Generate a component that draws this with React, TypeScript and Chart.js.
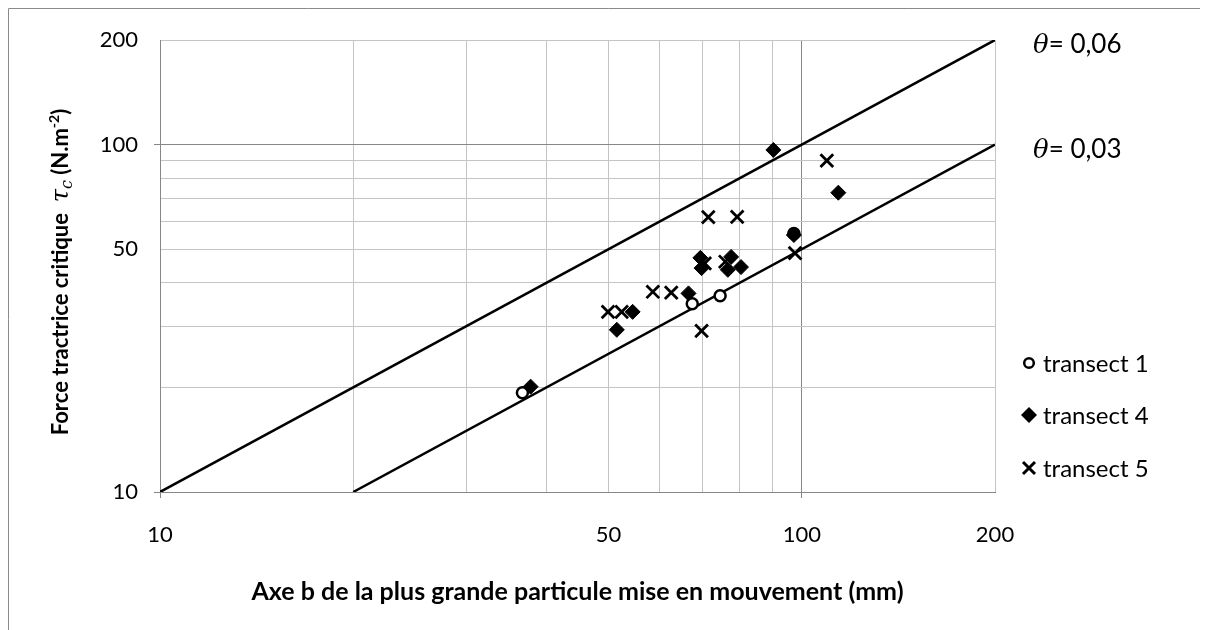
import React, { useEffect, useRef } from 'react';
import { Chart, registerables } from 'chart.js';

Chart.register(...registerables);

// ---- data ----
const t1D = [36.7, 67.5, 74.6, 97.2];
const t1Tau = [19.3, 34.8, 36.7, 55.5];

const t4D = [37.8, 51.5, 54.5, 66.6, 69.5, 69.8, 77.6, 76.7, 80.4, 97.2, 90.3, 114];
const t4Tau = [20.1, 29.3, 33.0, 37.3, 47.2, 44.1, 47.5, 43.6, 44.4, 54.9, 96.5, 72.7];

const t5D = [49.9, 52.4, 58.6, 62.6, 69.8, 70.6, 76.0, 97.6, 71.5, 79.3, 109.4];
const t5Tau = [33.0, 33.0, 37.7, 37.5, 29.1, 45.5, 46.0, 48.7, 61.8, 61.9, 89.9];

const theta06D = [10, 200];
const theta06Tau = [10, 200];
const theta03D = [20, 200];
const theta03Tau = [10, 100];

const gridTicks = [10, 20, 30, 40, 50, 60, 70, 80, 90, 100, 200];
const labelTicks = [10, 50, 100, 200];
const majorTicks = [10, 100];

const seriesLabels = ['transect 1', 'transect 4', 'transect 5'];
const thetaLabels = ['0,06', '0,03'];
const xTitle = 'Axe b de la plus grande particule mise en mouvement (mm)';

const FONT = 'Lato, "Open Sans", sans-serif';

const pts = (xs: number[], ys: number[]) => xs.map((x, i) => ({ x, y: ys[i] }));

type Seg = { text: string; font: string; dy?: number };

function segWidth(ctx: CanvasRenderingContext2D, segs: Seg[]) {
  let w = 0;
  for (const s of segs) {
    ctx.font = s.font;
    w += ctx.measureText(s.text).width;
  }
  return w;
}
function drawSegs(ctx: CanvasRenderingContext2D, segs: Seg[], x: number, y: number) {
  let cx = x;
  for (const s of segs) {
    ctx.font = s.font;
    ctx.fillText(s.text, cx, y + (s.dy || 0));
    cx += ctx.measureText(s.text).width;
  }
}

const overlay = {
  id: 'overlay',
  afterDraw(chart: any) {
    const ctx: CanvasRenderingContext2D = chart.ctx;
    const { left, right } = chart.chartArea;
    const ys = chart.scales.y;
    ctx.save();
    // outer frame (top and left edges visible)
    ctx.strokeStyle = '#8a8a8a';
    ctx.lineWidth = 1;
    ctx.beginPath();
    ctx.moveTo(0.5, chart.height);
    ctx.lineTo(0.5, 0.5);
    ctx.lineTo(chart.width, 0.5);
    ctx.stroke();

    ctx.fillStyle = '#000';
    ctx.textBaseline = 'alphabetic';
    ctx.textAlign = 'left';

    // x title
    const xs: Seg[] = [{ text: xTitle, font: `bold 25px ${FONT}` }];
    const xw = segWidth(ctx, xs);
    drawSegs(ctx, xs, (left + right) / 2 - xw / 2, 592);

    // y title (rotated)
    const bold = `bold 22px ${FONT}`;
    const ySegs: Seg[] = [
      { text: 'Force tractrice critique  ', font: bold },
      { text: 'τ', font: 'italic 24px "DejaVu Serif"' },
      { text: 'c', font: 'italic 16px "DejaVu Serif"', dy: 4 },
      { text: ' (N.m', font: bold },
      { text: '-2', font: `bold 14px ${FONT}`, dy: -9 },
      { text: ')', font: bold },
    ];
    const yw = segWidth(ctx, ySegs);
    ctx.save();
    ctx.translate(52, 264);
    ctx.rotate(-Math.PI / 2);
    drawSegs(ctx, ySegs, -yw / 2, 8);
    ctx.restore();

    // theta labels
    const thVals = [theta06Tau[1], theta03Tau[1]];
    thVals.forEach((v, i) => {
      const py = ys.getPixelForValue(v) + 13;
      drawSegs(ctx, [
        { text: 'θ', font: 'italic 26px "DejaVu Serif"' },
        { text: '= ' + thetaLabels[i], font: `26px ${FONT}` },
      ], right + 38, py);
    });

    // legend
    const rowY = [355, 407, 460];
    const mx = 1021;
    ctx.strokeStyle = '#000';
    ctx.fillStyle = '#000';
    // circle
    ctx.lineWidth = 2.5;
    ctx.beginPath();
    ctx.arc(mx, rowY[0], 4.8, 0, Math.PI * 2);
    ctx.stroke();
    // diamond
    ctx.beginPath();
    ctx.moveTo(mx - 8, rowY[1]);
    ctx.lineTo(mx, rowY[1] - 8);
    ctx.lineTo(mx + 8, rowY[1]);
    ctx.lineTo(mx, rowY[1] + 8);
    ctx.closePath();
    ctx.fill();
    // cross
    ctx.lineWidth = 3;
    ctx.beginPath();
    ctx.moveTo(mx - 6, rowY[2] - 6);
    ctx.lineTo(mx + 6, rowY[2] + 6);
    ctx.moveTo(mx + 6, rowY[2] - 6);
    ctx.lineTo(mx - 6, rowY[2] + 6);
    ctx.stroke();
    ctx.font = `24px ${FONT}`;
    ctx.textBaseline = 'middle';
    seriesLabels.forEach((l, i) => ctx.fillText(l, mx + 14, rowY[i] + 1));
    ctx.restore();
  },
};

const gridColor = (c: any) =>
  c.tick && majorTicks.includes(c.tick.value) ? '#878787' : '#c4c4c4';
const tickColor = (c: any) =>
  c.tick && majorTicks.includes(c.tick.value) ? '#878787' : 'rgba(0,0,0,0)';

export default function App() {
  const ref = useRef<HTMLCanvasElement>(null);
  useEffect(() => {
    if (!ref.current) return;
    const chart = new Chart(ref.current, {
      type: 'scatter',
      data: {
        datasets: [
          {
            label: seriesLabels[2],
            data: pts(t5D, t5Tau),
            pointStyle: 'crossRot',
            pointRadius: 9,
            pointBorderWidth: 2.8,
            borderColor: '#000',
            backgroundColor: '#000',
            showLine: false,
          },
          {
            label: seriesLabels[1],
            data: pts(t4D, t4Tau),
            pointStyle: 'rectRot',
            pointRadius: 7.5,
            pointBorderWidth: 1,
            borderColor: '#000',
            backgroundColor: '#000',
            showLine: false,
          },
          {
            label: seriesLabels[0],
            data: pts(t1D, t1Tau),
            pointStyle: 'circle',
            pointRadius: 5.5,
            pointBorderWidth: 2.5,
            borderColor: '#000',
            backgroundColor: '#fff',
            showLine: false,
          },
          {
            label: 'theta 0.06',
            data: pts(theta06D, theta06Tau),
            showLine: true,
            borderColor: '#000',
            borderWidth: 2.5,
            pointRadius: 0,
          },
          {
            label: 'theta 0.03',
            data: pts(theta03D, theta03Tau),
            showLine: true,
            borderColor: '#000',
            borderWidth: 2.5,
            pointRadius: 0,
          },
        ],
      },
      options: {
        animation: false,
        responsive: false,
        layout: { padding: { top: 32, right: 213, left: 0, bottom: 0 } },
        plugins: { legend: { display: false }, tooltip: { enabled: false } },
        scales: {
          x: {
            type: 'logarithmic',
            min: 10,
            max: 200,
            afterBuildTicks: (s: any) => {
              s.ticks = gridTicks.map((v) => ({ value: v }));
            },
            afterFit: (s: any) => {
              s.height = 138;
            },
            grid: { color: gridColor, tickColor, tickLength: 6, lineWidth: 1 },
            border: { color: '#878787', width: 1 },
            ticks: {
              autoSkip: false,
              maxRotation: 0,
              padding: 24,
              color: '#000',
              font: { family: FONT, size: 22 },
              callback: (v: any) => (labelTicks.includes(Number(v)) ? String(v) : ''),
            },
          },
          y: {
            type: 'logarithmic',
            min: 10,
            max: 200,
            afterBuildTicks: (s: any) => {
              s.ticks = gridTicks.map((v) => ({ value: v }));
            },
            afterFit: (s: any) => {
              s.width = 152;
            },
            grid: { color: gridColor, tickColor, tickLength: 6, lineWidth: 1 },
            border: { color: '#878787', width: 1 },
            ticks: {
              autoSkip: false,
              padding: 16,
              color: '#000',
              font: { family: FONT, size: 22 },
              callback: (v: any) => (labelTicks.includes(Number(v)) ? String(v) : ''),
            },
          },
        },
      },
      plugins: [overlay],
    } as any);
    return () => chart.destroy();
  }, []);
  return (
    <canvas
      ref={ref}
      width={1200}
      height={622}
      style={{ display: 'block', width: 1200, height: 622 }}
    />
  );
}
